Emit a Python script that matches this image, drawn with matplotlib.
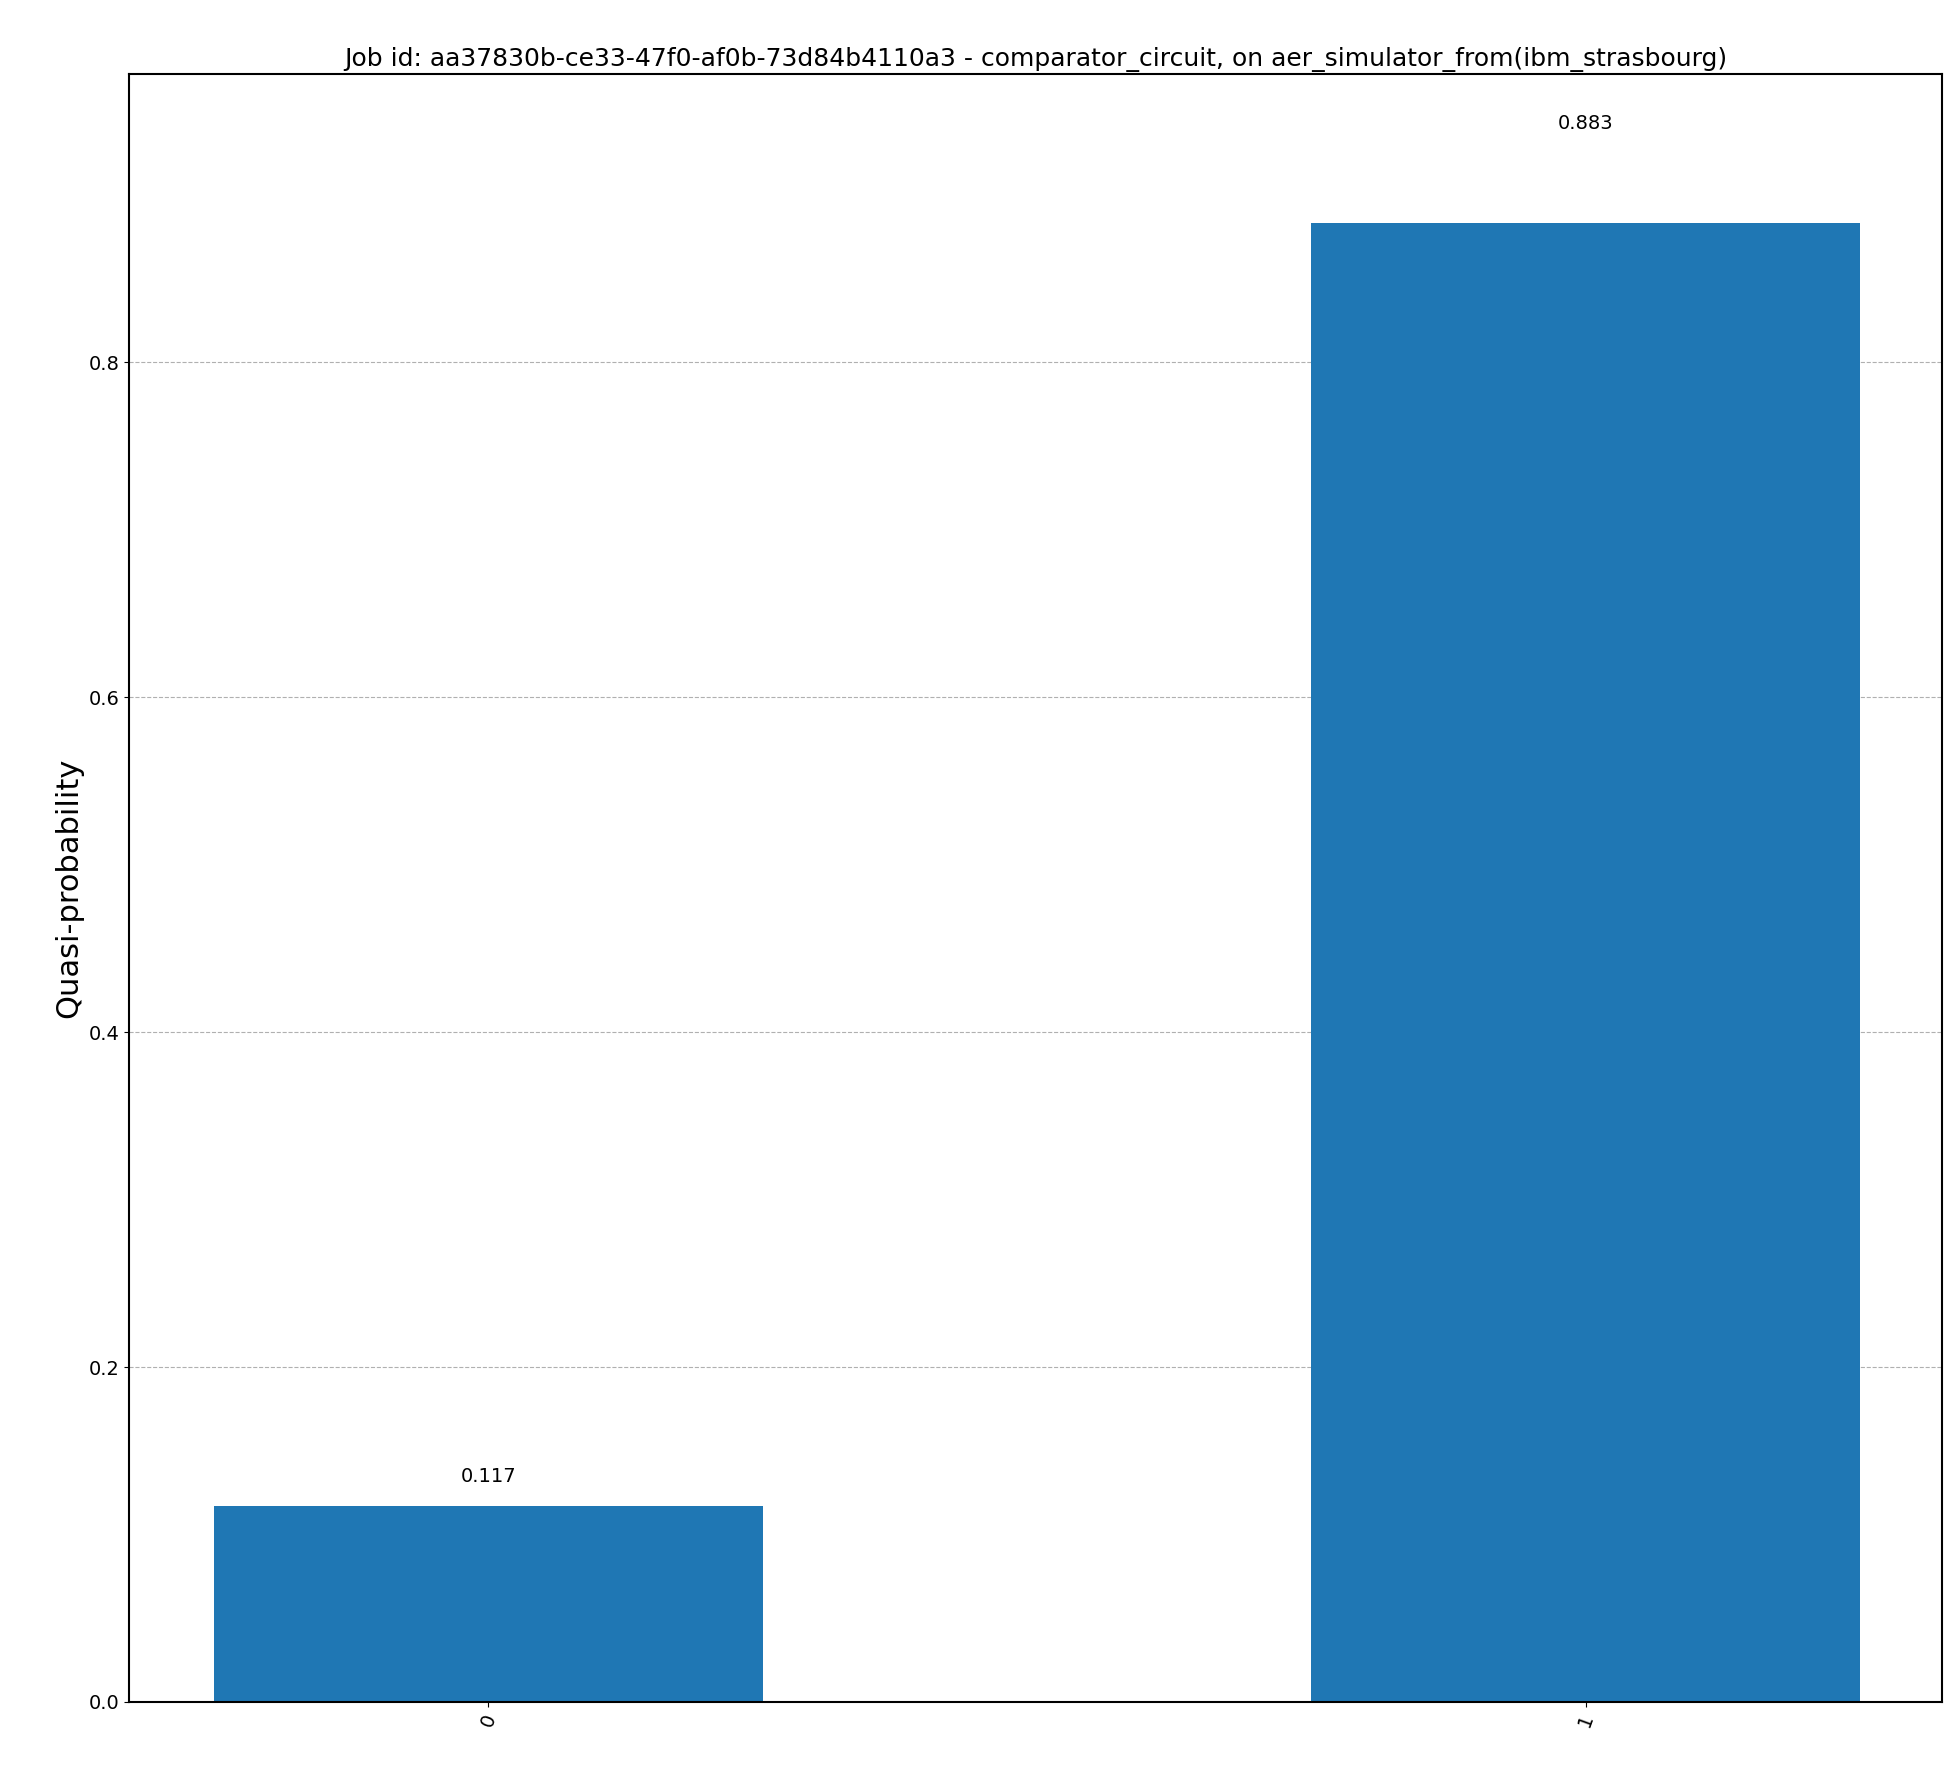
import matplotlib.pyplot as plt

# Data
states = ['0', '1']
quasi_probs = [0.117, 0.883]

fig = plt.figure(figsize=(19.6, 17.71), dpi=100)
ax = fig.add_axes([0.066, 0.039, 0.925, 0.919])

x = range(len(states))
ax.bar(x, quasi_probs, width=0.5, color='#1f77b4', zorder=2)

# Value labels above bars
for xi, v in zip(x, quasi_probs):
    off = 0.054 if v > 0.8 else 0.012
    ax.text(xi, v + off, f'{v:.3f}', ha='center', va='bottom', fontsize=14)

ax.set_xticks(list(x))
ax.set_xticklabels(states, rotation=70, fontsize=14)
ax.set_xlim(-0.327, 1.325)
ax.set_ylim(0, 0.972)
ax.set_yticks([0.0, 0.2, 0.4, 0.6, 0.8])
ax.tick_params(axis='y', labelsize=14)
ax.set_ylabel('Quasi-probability', fontsize=22)
ax.grid(axis='y', linestyle='--', color='#b0b0b0', zorder=0)
for s in ax.spines.values():
    s.set_linewidth(1.5)
ax.set_title('Job id: aa37830b-ce33-47f0-af0b-73d84b4110a3 - comparator_circuit, on aer_simulator_from(ibm_strasbourg)',
             fontsize=18)

plt.savefig('out.png')
